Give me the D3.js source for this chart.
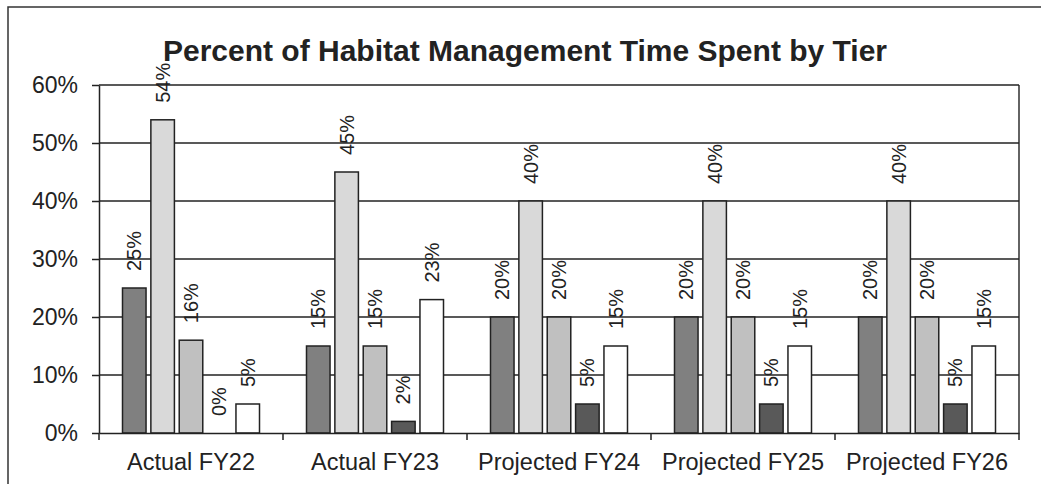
<!DOCTYPE html>
<html>
<head>
<meta charset="utf-8">
<script src="https://cdn.jsdelivr.net/npm/d3@7"></script>
<style>
  html, body { margin: 0; padding: 0; background: #fff; }
  svg { display: block; font-family: "Liberation Sans", Arial, sans-serif; }
</style>
</head>
<body>
<svg id="chart" width="1041" height="484"></svg>
<script>
// chart data
const categories = ["Actual FY22", "Actual FY23", "Projected FY24", "Projected FY25", "Projected FY26"];
const tierNames = ["Tier 1", "Tier 2", "Tier 3", "Tier 4", "Tier 5"];
const tier1 = [25, 15, 20, 20, 20];
const tier2 = [54, 45, 40, 40, 40];
const tier3 = [16, 15, 20, 20, 20];
const tier4 = [0, 2, 5, 5, 5];
const tier5 = [5, 23, 15, 15, 15];
const yTicks = [0, 10, 20, 30, 40, 50, 60];
const tierColors = ["#808080", "#d9d9d9", "#c0c0c0", "#595959", "#ffffff"];

const series = [tier1, tier2, tier3, tier4, tier5];

const svg = d3.select("#chart");
const W = +svg.attr("width");
const H = +svg.attr("height");

svg.append("rect").attr("width", W).attr("height", H).attr("fill", "#fff");

// outer chart frame (runs off the right and bottom edges)
svg.append("rect")
  .attr("x", 8).attr("y", 7)
  .attr("width", 1200).attr("height", 700)
  .attr("fill", "none")
  .attr("stroke", "#333")
  .attr("stroke-width", 1.5);

const margin = { top: 85, right: 22, bottom: 51, left: 99 };
const plotW = W - margin.left - margin.right;
const plotH = H - margin.top - margin.bottom;

const g = svg.append("g")
  .attr("transform", "translate(" + margin.left + "," + margin.top + ")");

const x0 = d3.scaleBand().domain(categories).range([0, plotW]);
const x1 = d3.scaleBand().domain(tierNames)
  .range([23.5, x0.bandwidth() - 23.5])
  .paddingInner(0.17);
const y = d3.scaleLinear().domain([0, 60]).range([plotH, 0]);

// gridlines
g.append("g")
  .selectAll("line")
  .data(yTicks.filter(d => d > 0))
  .enter().append("line")
  .attr("x1", 0).attr("x2", plotW)
  .attr("y1", d => y(d)).attr("y2", d => y(d))
  .attr("stroke", "#222")
  .attr("stroke-width", 1.4);

// right border of plot area
g.append("line")
  .attr("x1", plotW).attr("x2", plotW)
  .attr("y1", 0).attr("y2", plotH)
  .attr("stroke", "#222").attr("stroke-width", 1.4);

// bars
const groups = g.selectAll(".grp")
  .data(categories)
  .enter().append("g")
  .attr("class", "grp")
  .attr("transform", d => "translate(" + x0(d) + ",0)");

groups.each(function (cat, ci) {
  const grp = d3.select(this);
  const rows = tierNames.map((t, ti) => ({ tier: t, ti: ti, value: series[ti][ci] }));

  grp.selectAll("rect")
    .data(rows)
    .enter().append("rect")
    .attr("x", d => x1(d.tier))
    .attr("y", d => y(d.value))
    .attr("width", x1.bandwidth())
    .attr("height", d => plotH - y(d.value))
    .attr("fill", d => tierColors[d.ti])
    .attr("stroke", "#222")
    .attr("stroke-width", 1.5);

  grp.selectAll("text")
    .data(rows)
    .enter().append("text")
    .attr("transform", d => "translate(" + (x1(d.tier) + x1.bandwidth() / 2) + "," + (y(d.value) - 17) + ") rotate(-90)")
    .attr("dy", "0.35em")
    .attr("text-anchor", "start")
    .attr("font-size", "20px")
    .attr("fill", "#222")
    .text(d => d.value + "%");
});

// y axis
const yAxis = g.append("g")
  .call(d3.axisLeft(y).tickValues(yTicks).tickSize(7).tickSizeOuter(0).tickPadding(14)
    .tickFormat(d => d + "%"));
yAxis.select(".domain").attr("stroke", "#222").attr("stroke-width", 1.5);
yAxis.selectAll(".tick line").attr("stroke", "#222").attr("stroke-width", 1.5);
yAxis.selectAll(".tick text")
  .attr("font-size", "23px")
  .attr("font-family", "\"Liberation Sans\", Arial, sans-serif")
  .attr("fill", "#222");

// x axis
const xAxis = g.append("g")
  .attr("transform", "translate(0," + plotH + ")")
  .call(d3.axisBottom(x0).tickSize(0).tickPadding(20).tickSizeOuter(0));
xAxis.select(".domain").attr("stroke", "#222").attr("stroke-width", 1.5);
xAxis.selectAll(".tick text")
  .attr("font-size", "23.5px")
  .attr("font-family", "\"Liberation Sans\", Arial, sans-serif")
  .attr("fill", "#222");

// category boundary ticks
xAxis.append("g")
  .selectAll("line")
  .data(categories.map(c => x0(c)).concat([plotW]))
  .enter().append("line")
  .attr("x1", d => d).attr("x2", d => d)
  .attr("y1", 0).attr("y2", 7)
  .attr("stroke", "#222").attr("stroke-width", 1.5);

// title
svg.append("text")
  .attr("x", 525)
  .attr("y", 61)
  .attr("text-anchor", "middle")
  .attr("font-size", "30px")
  .attr("font-weight", "bold")
  .attr("fill", "#222")
  .text("Percent of Habitat Management Time Spent by Tier");
</script>
</body>
</html>
